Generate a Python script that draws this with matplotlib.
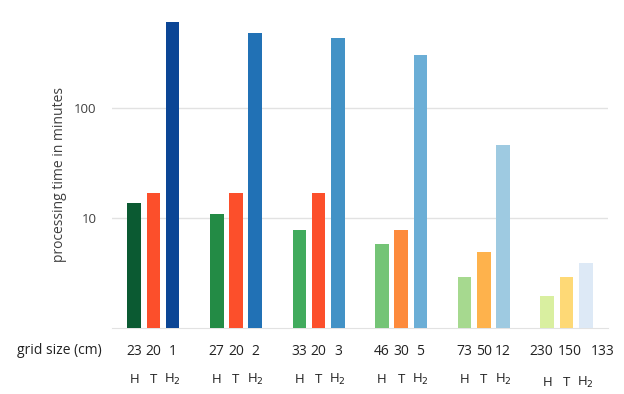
import numpy as np
import matplotlib.pyplot as plt

plt.rcParams['font.family'] = ['Open Sans', 'DejaVu Sans']

# processing time in minutes, one value per group (6 grid sizes)
h_times = [13.8, 10.9, 7.8, 5.8, 2.9, 1.95]
t_times = [16.7, 16.7, 16.7, 7.8, 4.9, 2.9]
h2_times = [596, 479, 429, 302, 46, 3.9]

# grid size (cm) under each bar
h_grid = ['23', '27', '33', '46', '73', '230']
t_grid = ['20', '20', '20', '30', '50', '150']
h2_grid = ['1', '2', '3', '5', '12', '133']

h_colors = ['#0b5a32', '#238b45', '#41ab5d', '#74c476', '#a6d98f', '#d9efa0']
t_colors = ['#fc4f2b', '#fc4f2b', '#fc4f2b', '#fd8a3c', '#feb24c', '#fed976']
h2_colors = ['#0b4595', '#2171b5', '#4292c6', '#6baed6', '#9ecae1', '#dde9f6']

x = np.arange(len(h_times))
off = 0.233
w = 0.165

fig = plt.figure(figsize=(6.24, 3.94), dpi=100)
ax = fig.add_axes([0.1795, 0.1667, 0.7945, 0.8333])

ax.bar(x - off, h_times, w, color=h_colors, zorder=3)
ax.bar(x, t_times, w, color=t_colors, zorder=3)
ax.bar(x + off, h2_times, w, color=h2_colors, zorder=3)

ax.set_yscale('log')
ax.set_ylim(1, 944)
ax.set_xlim(-0.5, 5.5)
ax.set_yticks([10, 100])
ax.set_yticklabels(['10', '100'])
ax.minorticks_off()
ax.tick_params(axis='y', length=0, labelsize=9.5, colors='#404040', pad=11)
ax.set_xticks([])
ax.grid(axis='y', color='#e2e2e2', linewidth=1, zorder=0)
for s in ['top', 'right', 'left']:
    ax.spines[s].set_visible(False)
ax.spines['bottom'].set_color('#e2e2e2')

ax.set_ylabel('processing time in minutes', fontsize=10, color='#404040')
ax.yaxis.set_label_coords(-0.09, 0.47)

# text rows below the axis
trans = ax.get_xaxis_transform()
num_y = -0.07
let_y = -0.155
fig.text(0.027, 0.11, 'grid size (cm)', fontsize=10, color='#222222', va='center', ha='left')
for i in range(len(x)):
    if i == len(x) - 1:
        num_offs = [-0.31, 0.04, 0.44]
        ly = let_y - 0.01
    else:
        num_offs = [-off, 0, off]
        ly = let_y
    for o, lab in zip(num_offs, [h_grid[i], t_grid[i], h2_grid[i]]):
        ax.text(x[i] + o, num_y, lab, transform=trans, ha='center', va='center',
                fontsize=10, color='#222222')
    for o, lab in zip([-off, 0, off], ['H', 'T', 'H$_2$']):
        ax.text(x[i] + o, ly, lab, transform=trans, ha='center', va='center',
                fontsize=9.5, color='#222222')

fig.savefig('out.png', dpi=100)
